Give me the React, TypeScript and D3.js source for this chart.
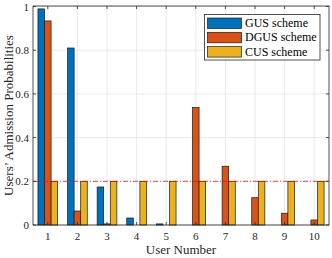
import React, { useEffect, useRef } from 'react';
import * as d3 from 'd3';

// users 1..10
const users = [1, 2, 3, 4, 5, 6, 7, 8, 9, 10];
const gusValues = [0.989, 0.81, 0.174, 0.032, 0.005, 0, 0, 0, 0, 0];
const dgusValues = [0.934, 0.064, 0.005, 0, 0, 0.538, 0.269, 0.125, 0.054, 0.023];
const cusValues = [0.2, 0.2, 0.2, 0.2, 0.2, 0.2, 0.2, 0.2, 0.2, 0.2];
const seriesNames = ['GUS scheme', 'DGUS scheme', 'CUS scheme'];
const seriesColors = ['#0072BD', '#D95319', '#EDB120'];
const yTicks = [0, 0.2, 0.4, 0.6, 0.8, 1];
const threshold = 0.2;

const W = 332, H = 258;
const FONT = "'Liberation Serif', 'DejaVu Serif', serif";

export default function App() {
  const ref = useRef<SVGSVGElement>(null);

  useEffect(() => {
    const svg = d3.select(ref.current);
    svg.selectAll('*').remove();

    const left = 33, right = 329, top = 6, bottom = 225;
    const axisColor = '#262626';

    const x = d3.scaleLinear().domain([0.5, 10.5]).range([left, right]);
    const y = d3.scaleLinear().domain([0, 1]).range([bottom, top + 0.5]);
    const step = x(2) - x(1);
    const barW = step * 0.222;

    const g = svg.append('g').style('font-family', FONT);

    // grid
    g.selectAll('line.vg').data(users).enter().append('line')
      .attr('x1', d => x(d)).attr('x2', d => x(d))
      .attr('y1', top).attr('y2', bottom)
      .attr('stroke', '#e3e3e3').attr('stroke-width', 0.8);
    g.selectAll('line.hg').data(yTicks).enter().append('line')
      .attr('x1', left).attr('x2', right)
      .attr('y1', d => y(d)).attr('y2', d => y(d))
      .attr('stroke', '#e3e3e3').attr('stroke-width', 0.8);

    // bars
    const allSeries = [gusValues, dgusValues, cusValues];
    allSeries.forEach((vals, si) => {
      g.selectAll('rect.s' + si).data(vals).enter().append('rect')
        .attr('x', (d, i) => x(users[i]) + (si - 1.5) * barW)
        .attr('width', barW)
        .attr('y', d => y(d))
        .attr('height', d => y(0) - y(d))
        .attr('fill', seriesColors[si])
        .attr('stroke', '#1a1a1a')
        .attr('stroke-width', 0.7);
    });

    // threshold line
    g.append('line')
      .attr('x1', left).attr('x2', right)
      .attr('y1', y(threshold)).attr('y2', y(threshold))
      .attr('stroke', '#ff0000').attr('stroke-width', 0.7)
      .attr('stroke-dasharray', '5,2,1,2');

    // box
    g.append('rect')
      .attr('x', left).attr('y', top)
      .attr('width', right - left).attr('height', bottom - top)
      .attr('fill', 'none').attr('stroke', axisColor).attr('stroke-width', 0.8);

    // ticks (inward)
    users.forEach(u => {
      g.append('line').attr('x1', x(u)).attr('x2', x(u)).attr('y1', bottom).attr('y2', bottom - 3)
        .attr('stroke', axisColor).attr('stroke-width', 0.8);
      g.append('line').attr('x1', x(u)).attr('x2', x(u)).attr('y1', top).attr('y2', top + 3)
        .attr('stroke', axisColor).attr('stroke-width', 0.8);
    });
    yTicks.forEach(t => {
      g.append('line').attr('x1', left).attr('x2', left + 3).attr('y1', y(t)).attr('y2', y(t))
        .attr('stroke', axisColor).attr('stroke-width', 0.8);
      g.append('line').attr('x1', right).attr('x2', right - 3).attr('y1', y(t)).attr('y2', y(t))
        .attr('stroke', axisColor).attr('stroke-width', 0.8);
    });

    // tick labels
    g.selectAll('text.xt').data(users).enter().append('text')
      .attr('x', d => x(d)).attr('y', bottom + 15)
      .attr('text-anchor', 'middle')
      .attr('font-size', 11).attr('fill', axisColor)
      .text(d => String(d));
    g.selectAll('text.yt').data(yTicks).enter().append('text')
      .attr('x', left - 4).attr('y', d => y(d) + 4)
      .attr('text-anchor', 'end')
      .attr('font-size', 11).attr('fill', axisColor)
      .text(d => String(d));

    // axis labels
    g.append('text')
      .attr('x', (left + right) / 2).attr('y', 254)
      .attr('text-anchor', 'middle')
      .attr('font-size', 13).attr('fill', axisColor)
      .text('User Number');
    g.append('text')
      .attr('transform', `translate(13,${(top + bottom) / 2}) rotate(-90)`)
      .attr('text-anchor', 'middle')
      .attr('font-size', 13).attr('fill', axisColor)
      .text('Users\u2019 Admission Probabilities');

    // legend
    const lg = g.append('g');
    lg.append('rect')
      .attr('x', 204.5).attr('y', 14.5).attr('width', 115.5).attr('height', 45.5)
      .attr('fill', '#fff').attr('stroke', axisColor).attr('stroke-width', 0.8);
    seriesNames.forEach((name, i) => {
      const ry = 18 + i * 14.3;
      lg.append('rect')
        .attr('x', 207.5).attr('y', ry).attr('width', 34).attr('height', 10.5)
        .attr('fill', seriesColors[i]).attr('stroke', '#1a1a1a').attr('stroke-width', 0.7);
      lg.append('text')
        .attr('x', 245).attr('y', ry + 9)
        .attr('font-size', 12).attr('fill', '#000')
        .text(name);
    });
  }, []);

  return <svg ref={ref} width={W} height={H} style={{ display: 'block', position: 'absolute', left: 0, top: 0, background: '#fff' }} />;
}
